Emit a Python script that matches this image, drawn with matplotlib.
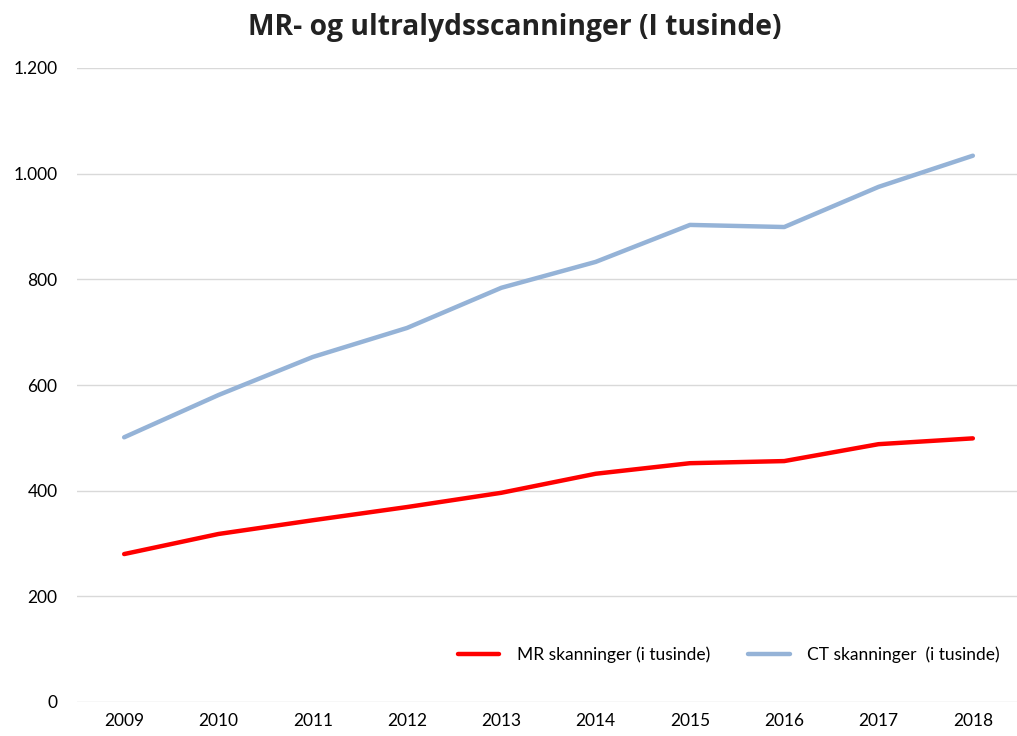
import matplotlib
matplotlib.use("Agg")
import matplotlib.pyplot as plt
from matplotlib.ticker import FuncFormatter

plt.rcParams['font.family'] = ['Lato', 'DejaVu Sans']

# data
years = ['2009', '2010', '2011', '2012', '2013', '2014', '2015', '2016', '2017', '2018']
mr = [280, 318, 344, 369, 396, 432, 452, 456, 488, 499]
ct = [501, 581, 653, 708, 784, 833, 903, 899, 975, 1034]

fig = plt.figure(figsize=(10.17, 7.36), dpi=100)
ax = fig.add_axes([77 / 1017, 34 / 736, 943 / 1017, 634 / 736])

x = range(len(years))
ax.plot(x, mr, color='#ff0000', lw=3.2, label='MR skanninger (i tusinde)', solid_capstyle='round')
ax.plot(x, ct, color='#95b3d7', lw=3.2, label='CT skanninger  (i tusinde)', solid_capstyle='round')

ax.set_xlim(-0.5, len(years) - 0.5)
ax.set_ylim(0, 1200)
ax.set_yticks(range(0, 1201, 200))
ax.yaxis.set_major_formatter(FuncFormatter(lambda v, p: f'{int(v):,}'.replace(',', '.')))
ax.set_xticks(list(x))
ax.set_xticklabels(years)
ax.tick_params(axis='both', length=0, labelsize=12.5, colors='#000000')
ax.tick_params(axis='y', pad=14)
ax.tick_params(axis='x', pad=8)

ax.grid(axis='y', color='#d9d9d9', lw=1)
ax.set_axisbelow(True)
for s in ax.spines.values():
    s.set_visible(False)

ax.legend(loc='center right', bbox_to_anchor=(0.995, 0.074), ncol=2, frameon=False,
          fontsize=12.5, handlelength=2.4, columnspacing=2.2, handletextpad=1.0)

fig.text(0.506, 0.963, 'MR- og ultralydsscanninger (I tusinde)', ha='center', va='center',
         fontsize=20.3, fontweight='bold', color='#222222', family=['Open Sans', 'DejaVu Sans'])

fig.savefig('out.png', dpi=100)
